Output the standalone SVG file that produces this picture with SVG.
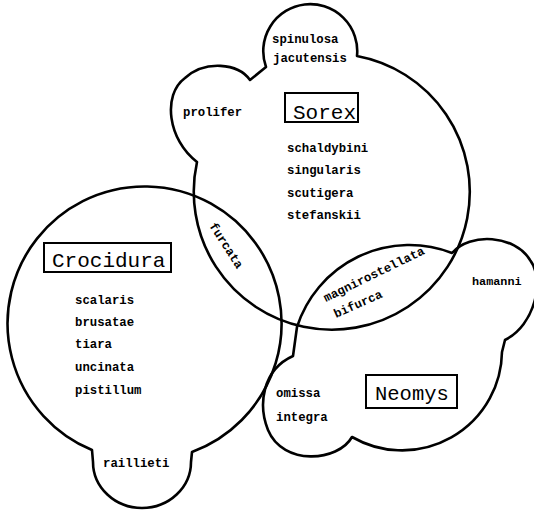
<svg xmlns="http://www.w3.org/2000/svg" width="534" height="510" viewBox="0 0 534 510">
<style>
.outline{fill:none;stroke:#000;stroke-width:2.6;stroke-linejoin:round}
.box{fill:#fff;stroke:#000;stroke-width:2}
.sp{font-family:"Liberation Mono","DejaVu Sans Mono",monospace;font-weight:bold;font-size:12.3px;fill:#000}
.title{font-family:"Liberation Mono","DejaVu Sans Mono",monospace;font-size:21px;fill:#000}
</style>
<rect x="0" y="0" width="534" height="510" fill="#fff"/>
<g id="crocidura">
<path class="outline" d="M 92,450 A 137 137 0 1 1 192,452 L 191,462 A 49 46 0 0 1 93,462 Z"/>
<rect class="box" x="44" y="243" width="127" height="29"/>
<text class="title" x="52" y="267">Crocidura</text>
<text class="sp" x="75" y="304">scalaris</text>
<text class="sp" x="75" y="326">brusatae</text>
<text class="sp" x="75" y="348">tiara</text>
<text class="sp" x="75" y="371">uncinata</text>
<text class="sp" x="75" y="394">pistillum</text>
<text class="sp" x="103" y="467">raillieti</text>
</g>
<g id="sorex">
<path class="outline" d="M 266,67 A 47 47 0 1 1 357,56 A 138 138 0 1 1 197,162 C 168,140 162,95 185,78 C 205,60 238,63 250,80 Z"/>
<rect class="box" x="285" y="93" width="73" height="29"/>
<text class="title" x="293" y="119">Sorex</text>
<text class="sp" x="272" y="43">spinulosa</text>
<text class="sp" x="273" y="62">jacutensis</text>
<text class="sp" x="183" y="116">prolifer</text>
<text class="sp" x="287" y="152">schaldybini</text>
<text class="sp" x="287" y="174">singularis</text>
<text class="sp" x="287" y="197">scutigera</text>
<text class="sp" x="287" y="219">stefanskii</text>
</g>
<g id="neomys">
<path class="outline" d="M 293,356 L 297,327 A 118 118 0 0 1 452,253 C 470,232 515,235 530,260 C 545,280 535,325 505,340 L 502,352 A 100 100 0 0 1 352,437 C 338,462 283,466 268,430 C 258,405 262,370 293,356 Z"/>
<rect class="box" x="366" y="375" width="91" height="33"/>
<text class="title" x="375" y="400" style="font-size:20.5px">Neomys</text>
<text class="sp" x="276" y="397">omissa</text>
<text class="sp" x="276" y="421">integra</text>
<text class="sp" x="472" y="285" style="font-size:11.8px">hamanni</text>
</g>
<g id="overlaps">
<text class="sp" x="209" y="226" transform="rotate(57 209 226)">furcata</text>
<text class="sp" x="326" y="302" transform="rotate(-26 326 302)">magnirostellata</text>
<text class="sp" x="336" y="318" transform="rotate(-24 336 318)">bifurca</text>
</g>
</svg>
